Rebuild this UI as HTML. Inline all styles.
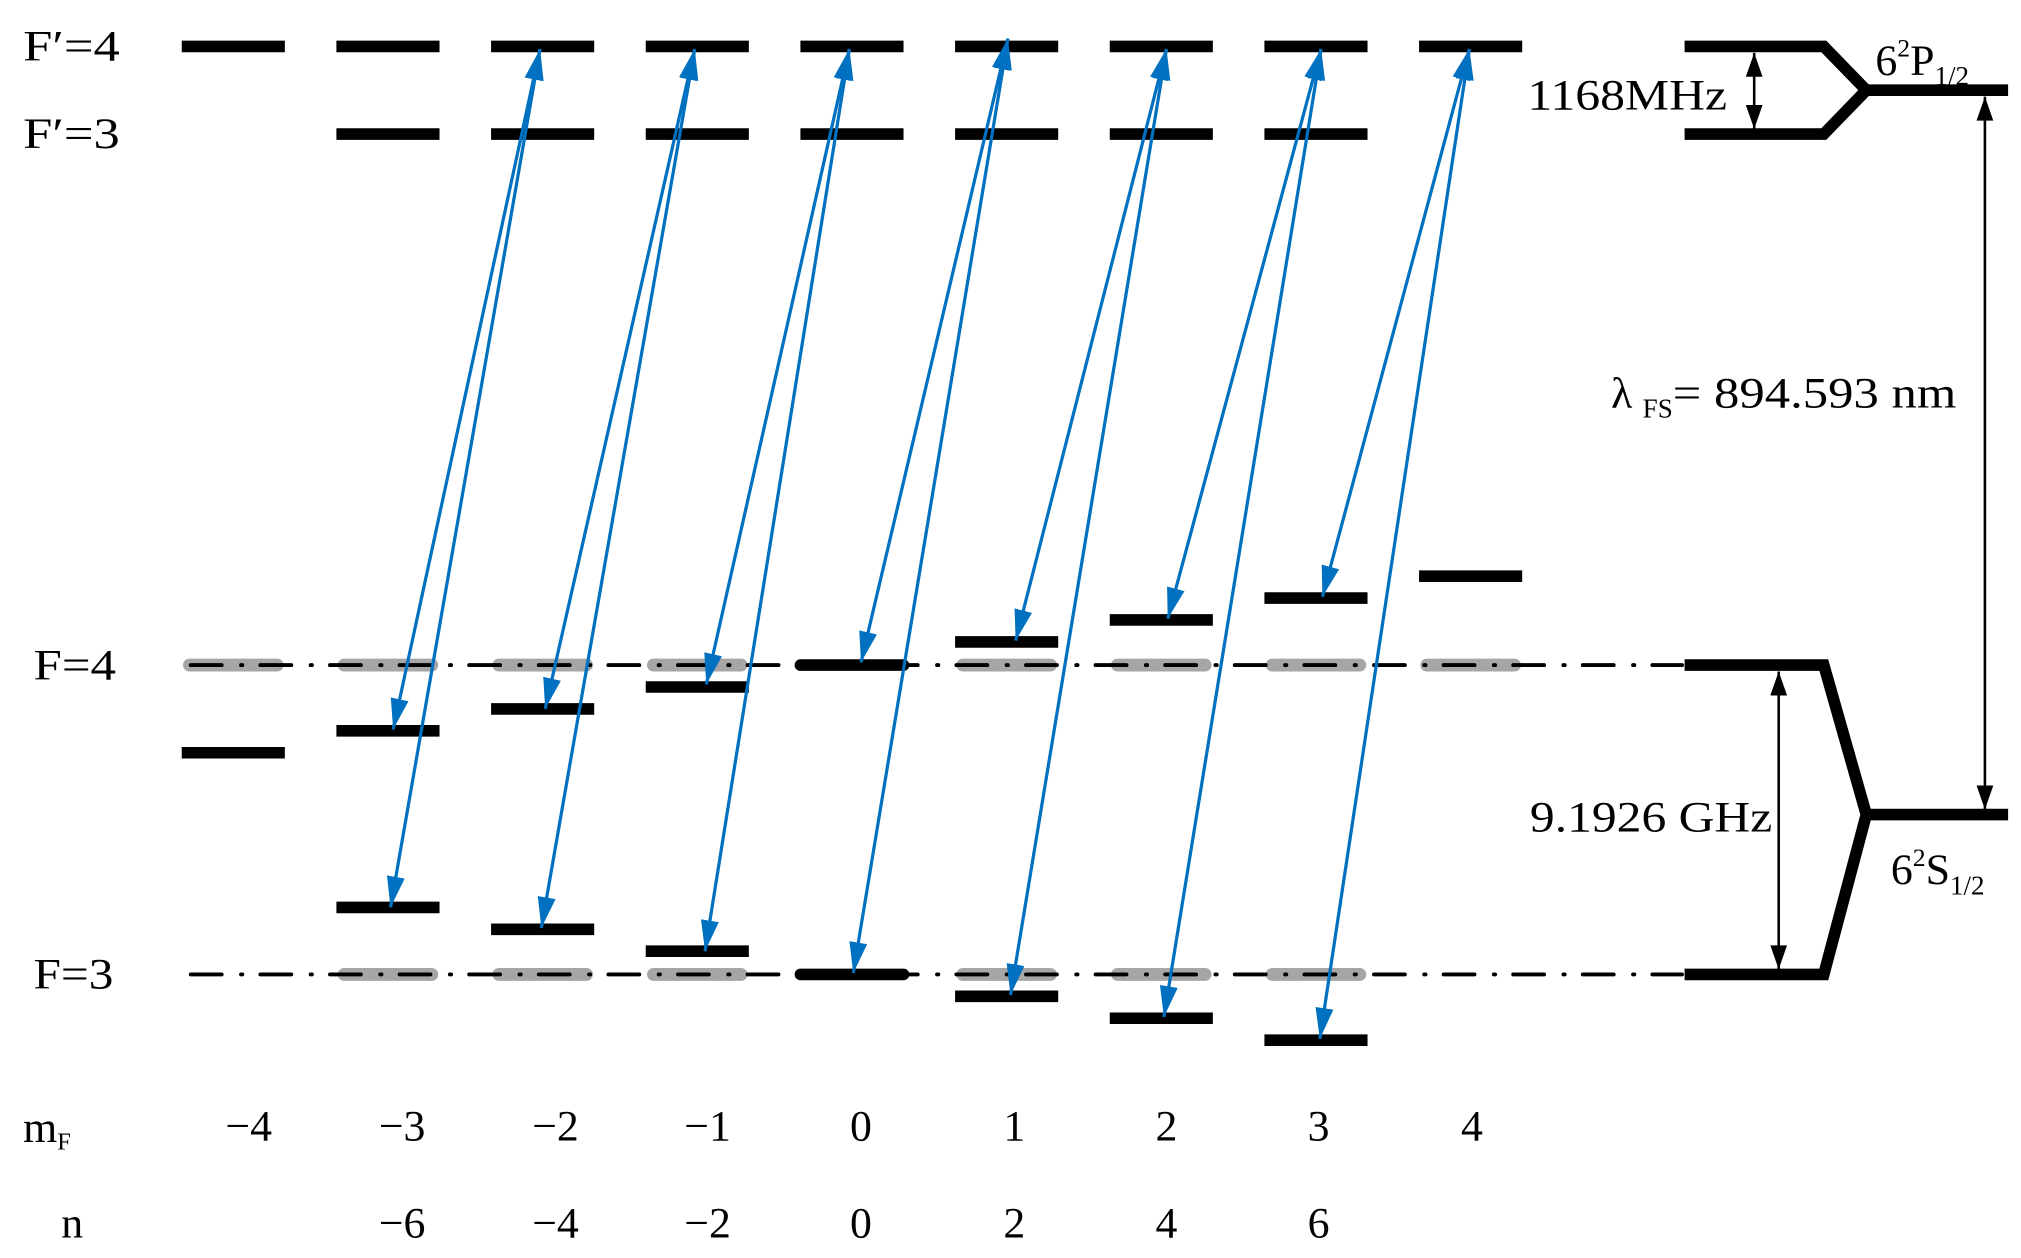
<!DOCTYPE html>
<html><head><meta charset="utf-8"><style>
html,body{margin:0;padding:0;background:#fff}
svg{display:block}
text{font-family:"Liberation Serif",serif;fill:#000}
</style></head><body>
<svg width="2021" height="1258" viewBox="0 0 1568 976" preserveAspectRatio="none" xmlns="http://www.w3.org/2000/svg">
<defs>
<marker id="ah" viewBox="0 0 24 14" refX="24" refY="7" markerWidth="24" markerHeight="14" markerUnits="userSpaceOnUse" orient="auto-start-reverse">
<path d="M0,0 L24,7 L0,14 Z" fill="#0070C0"/></marker>
<marker id="bh" viewBox="0 0 20 14" refX="20" refY="7" markerWidth="20" markerHeight="13" markerUnits="userSpaceOnUse" orient="auto-start-reverse">
<path d="M0,0 L20,7 L0,14 Z" fill="#000"/></marker>
</defs>
<g stroke="#a6a6a6" stroke-width="10" stroke-linecap="round">
<line x1="147" y1="516" x2="215" y2="516"/><line x1="267" y1="516" x2="335" y2="516"/>
<line x1="387" y1="516" x2="455" y2="516"/><line x1="507" y1="516" x2="575" y2="516"/>
<line x1="747" y1="516" x2="815" y2="516"/><line x1="867" y1="516" x2="935" y2="516"/>
<line x1="987" y1="516" x2="1055" y2="516"/><line x1="1107" y1="516" x2="1175" y2="516"/>
<line x1="267" y1="756" x2="335" y2="756"/><line x1="387" y1="756" x2="455" y2="756"/>
<line x1="507" y1="756" x2="575" y2="756"/><line x1="747" y1="756" x2="815" y2="756"/>
<line x1="867" y1="756" x2="935" y2="756"/><line x1="987" y1="756" x2="1055" y2="756"/>
</g>
<g stroke="#000" stroke-width="3" stroke-linecap="round" stroke-dasharray="24 15 1 14">
<line x1="148" y1="516" x2="1305" y2="516"/>
<line x1="148" y1="756" x2="1305" y2="756"/>
</g>
<g stroke="#000" stroke-width="9">
<line x1="141" y1="36" x2="221" y2="36"/><line x1="261" y1="36" x2="341" y2="36"/>
<line x1="381" y1="36" x2="461" y2="36"/><line x1="501" y1="36" x2="581" y2="36"/>
<line x1="621" y1="36" x2="701" y2="36"/><line x1="741" y1="36" x2="821" y2="36"/>
<line x1="861" y1="36" x2="941" y2="36"/><line x1="981" y1="36" x2="1061" y2="36"/>
<line x1="1101" y1="36" x2="1181" y2="36"/>
<line x1="261" y1="104" x2="341" y2="104"/><line x1="381" y1="104" x2="461" y2="104"/>
<line x1="501" y1="104" x2="581" y2="104"/><line x1="621" y1="104" x2="701" y2="104"/>
<line x1="741" y1="104" x2="821" y2="104"/><line x1="861" y1="104" x2="941" y2="104"/>
<line x1="981" y1="104" x2="1061" y2="104"/>
<line x1="141" y1="584" x2="221" y2="584"/><line x1="261" y1="567" x2="341" y2="567"/>
<line x1="381" y1="550" x2="461" y2="550"/><line x1="501" y1="533" x2="581" y2="533"/>
<line x1="621" y1="516" x2="701" y2="516" stroke-linecap="round"/><line x1="741" y1="498" x2="821" y2="498"/>
<line x1="861" y1="481" x2="941" y2="481"/><line x1="981" y1="464" x2="1061" y2="464"/>
<line x1="1101" y1="447" x2="1181" y2="447"/>
<line x1="261" y1="704" x2="341" y2="704"/><line x1="381" y1="721" x2="461" y2="721"/>
<line x1="501" y1="738" x2="581" y2="738"/><line x1="621" y1="756" x2="701" y2="756" stroke-linecap="round"/>
<line x1="741" y1="773" x2="821" y2="773"/><line x1="861" y1="790" x2="941" y2="790"/>
<line x1="981" y1="807" x2="1061" y2="807"/>
</g>
<g stroke="#0070C0" stroke-width="2.5" fill="none" marker-start="url(#ah)" marker-end="url(#ah)">
<line x1="419" y1="38" x2="305" y2="566"/><line x1="419" y1="38" x2="303" y2="704"/>
<line x1="539" y1="38" x2="423" y2="550"/><line x1="539" y1="38" x2="420" y2="720"/>
<line x1="659" y1="38" x2="548" y2="531"/><line x1="659" y1="38" x2="547" y2="738"/>
<line x1="782" y1="30" x2="668" y2="514"/><line x1="782" y1="30" x2="662" y2="755"/>
<line x1="905" y1="38" x2="788" y2="497"/><line x1="905" y1="38" x2="784" y2="772"/>
<line x1="1025" y1="38" x2="906" y2="480"/><line x1="1025" y1="38" x2="903" y2="789"/>
<line x1="1140" y1="38" x2="1026" y2="463"/><line x1="1140" y1="38" x2="1024" y2="806"/>
</g>
<g stroke="#000" stroke-width="9" fill="none" stroke-linejoin="miter">
<polyline points="1307,36 1415,36 1448,70 1415,104 1307,104"/>
<line x1="1448" y1="70" x2="1558" y2="70"/>
<polyline points="1307,516 1415,516 1448,632 1415,756 1307,756"/>
<line x1="1448" y1="632" x2="1558" y2="632"/>
</g>
<g stroke="#000" stroke-width="2" marker-start="url(#bh)" marker-end="url(#bh)">
<line x1="1361" y1="41" x2="1361" y2="100"/>
<line x1="1380" y1="521" x2="1380" y2="752"/>
<line x1="1540" y1="75" x2="1540" y2="628"/>
</g>
<g font-size="34">
<text x="18" y="47" textLength="75" lengthAdjust="spacingAndGlyphs">F′=4</text>
<text x="18" y="115" textLength="75" lengthAdjust="spacingAndGlyphs">F′=3</text>
<text x="26" y="527" textLength="64" lengthAdjust="spacingAndGlyphs">F=4</text>
<text x="26" y="767" textLength="62" lengthAdjust="spacingAndGlyphs">F=3</text>
<text x="1185" y="85" textLength="155" lengthAdjust="spacingAndGlyphs">1168MHz</text>
<text x="1455" y="58">6<tspan font-size="20" dy="-14">2</tspan><tspan dy="14">P</tspan><tspan font-size="21" dy="8">1/2</tspan></text>
<text x="1467" y="686">6<tspan font-size="20" dy="-14">2</tspan><tspan dy="14">S</tspan><tspan font-size="21" dy="8">1/2</tspan></text>
<text x="1187" y="645" textLength="188" lengthAdjust="spacingAndGlyphs">9.1926 GHz</text>
<text x="1250" y="316">λ<tspan font-size="21" dx="8" dy="8">FS</tspan><tspan dy="-8" textLength="220" lengthAdjust="spacingAndGlyphs">= 894.593 nm</tspan></text>
<text x="18" y="886">m<tspan font-size="19" dy="6">F</tspan></text>
<text x="56" y="960" text-anchor="middle">n</text>
<g text-anchor="middle">
<text x="193" y="885">−4</text><text x="312" y="885">−3</text><text x="431" y="885">−2</text>
<text x="549" y="885">−1</text><text x="668" y="885">0</text><text x="787" y="885">1</text>
<text x="905" y="885">2</text><text x="1023" y="885">3</text><text x="1142" y="885">4</text>
<text x="312" y="960">−6</text><text x="431" y="960">−4</text><text x="549" y="960">−2</text>
<text x="668" y="960">0</text><text x="787" y="960">2</text><text x="905" y="960">4</text>
<text x="1023" y="960">6</text>
</g>
</g>
</svg>
</body></html>
